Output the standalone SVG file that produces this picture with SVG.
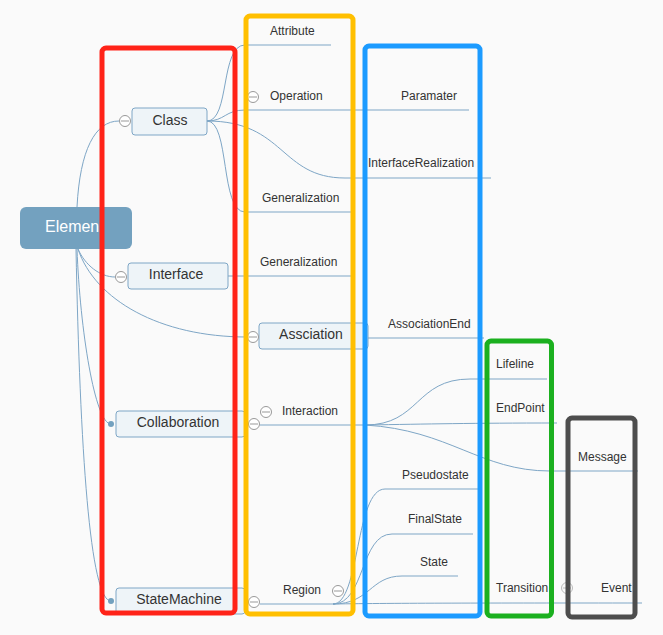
<svg xmlns="http://www.w3.org/2000/svg" width="663" height="635" viewBox="0 0 663 635">
<style>
.e{fill:none;stroke:#7ea6c6;stroke-width:1}
.n rect{fill:#eef4f8;stroke:#7ea6c6;stroke-width:1}
.nt{font-family:"Liberation Sans",Arial,sans-serif;font-size:14px;fill:#333;text-anchor:middle}
.lt{font-family:"Liberation Sans",Arial,sans-serif;font-size:12px;fill:#333}
.c{fill:#fff;stroke:#999;stroke-width:1}
.cl{stroke:#999;stroke-width:1}
.fr{fill:none;stroke-width:5}
</style>
<defs>
<g id="col"><circle class="c" r="5.5"/><line class="cl" x1="-4" y1="0" x2="4" y2="0"/></g>
</defs>
<rect width="663" height="635" fill="#fafafa"/>
<g id="connectors">
<path class="e" d="M77,207 C80,150 95,121 119,121"/>
<path class="e" d="M78,249 C85,265 100,277 115,277"/>
<path class="e" d="M78,249 C95,300 160,337 247,337"/>
<path class="e" d="M77,249 C80,330 95,424 111,424"/>
<path class="e" d="M76,249 C80,450 90,601 111,601"/>
<path class="e" d="M207,121 C230,121 220,45 245,45 L331,45"/>
<path class="e" d="M207,121 C225,121 225,110 245,110 L469,110"/>
<path class="e" d="M207,121 C285,121 280,178 345,178 L491,178"/>
<path class="e" d="M207,121 C230,121 220,212 245,212 L351,212"/>
<path class="e" d="M228,276 L351,276"/>
<path class="e" d="M368,338 L484,338"/>
<path class="e" d="M260,425 L365,425"/>
<path class="e" d="M365,425 C420,425 415,379 470,379 L547,379"/>
<path class="e" d="M365,425 C430,424 470,423 557,423"/>
<path class="e" d="M365,425 C450,430 480,471 550,471 L638,471"/>
<path class="e" d="M260,604 L335,604"/>
<path class="e" d="M333,604 C360,604 355,489 385,489 L478,489"/>
<path class="e" d="M333,604 C365,604 360,534 392,534 L473,534"/>
<path class="e" d="M333,604 C370,604 370,576 402,576 L458,576"/>
<path class="e" d="M333,604 C400,603 480,603 642,603"/>
</g>
<g id="Element">
<rect x="20" y="207" width="112" height="42" rx="6" fill="#73a1bf"/>
<text x="45" y="232" font-family="Liberation Sans,Arial,sans-serif" font-size="16" fill="#fff">Elemen</text>
</g>
<g id="Class" class="n"><rect x="132" y="108" width="75" height="27" rx="3"/><text class="nt" x="170" y="125">Class</text><use href="#col" x="125" y="121"/></g>
<g id="Interface" class="n"><rect x="128" y="263" width="100" height="26" rx="3"/><text class="nt" x="176" y="279">Interface</text><use href="#col" x="121" y="277"/></g>
<g id="Collaboration" class="n"><rect x="116" y="411" width="129" height="26" rx="3"/><text class="nt" x="178" y="427">Collaboration</text><circle cx="111" cy="424" r="3" fill="#73a1bf"/></g>
<g id="StateMachine" class="n"><rect x="116" y="588" width="129" height="26" rx="3"/><text class="nt" x="179" y="604">StateMachine</text><circle cx="111" cy="601" r="3" fill="#73a1bf"/></g>
<g id="Assciation" class="n"><rect x="259" y="323" width="109" height="26" rx="3"/><text class="nt" x="311" y="339">Assciation</text><use href="#col" x="253" y="337"/></g>
<g id="Attribute"><text class="lt" x="270" y="35">Attribute</text></g>
<g id="Operation"><text class="lt" x="270" y="100">Operation</text><use href="#col" x="253" y="97"/></g>
<g id="Paramater"><text class="lt" x="401" y="100">Paramater</text></g>
<g id="InterfaceRealization"><text class="lt" x="368" y="167">InterfaceRealization</text></g>
<g id="Generalization1"><text class="lt" x="262" y="202">Generalization</text></g>
<g id="Generalization2"><text class="lt" x="260" y="266">Generalization</text></g>
<g id="AssociationEnd"><text class="lt" x="388" y="328">AssociationEnd</text></g>
<g id="Interaction"><text class="lt" x="282" y="415">Interaction</text><use href="#col" x="266" y="412"/><use href="#col" x="254" y="424"/></g>
<g id="Lifeline"><text class="lt" x="496" y="368">Lifeline</text></g>
<g id="EndPoint"><text class="lt" x="496" y="412">EndPoint</text></g>
<g id="Message"><text class="lt" x="578" y="461">Message</text></g>
<g id="Region"><text class="lt" x="283" y="594">Region</text><use href="#col" x="338" y="591"/><use href="#col" x="254" y="602"/></g>
<g id="Pseudostate"><text class="lt" x="402" y="479">Pseudostate</text></g>
<g id="FinalState"><text class="lt" x="408" y="523">FinalState</text></g>
<g id="State"><text class="lt" x="420" y="566">State</text></g>
<g id="Transition"><text class="lt" x="496" y="592">Transition</text><circle cx="567" cy="588" r="5.5" fill="none" stroke="#bbb"/><line x1="563" y1="588" x2="571" y2="588" stroke="#bbb"/><line x1="567" y1="584" x2="567" y2="592" stroke="#bbb"/></g>
<g id="Event"><text class="lt" x="601" y="592">Event</text></g>
<g id="frames">
<rect class="fr" x="102" y="48" width="133" height="565" rx="4" stroke="#ff2318"/>
<rect class="fr" x="246" y="16" width="107" height="598" rx="4" stroke="#ffbf00"/>
<rect class="fr" x="365" y="46" width="115" height="570" rx="4" stroke="#1c9bff"/>
<rect class="fr" x="487" y="341" width="64.5" height="275" rx="4" stroke="#1bb01f"/>
<rect class="fr" x="568" y="418" width="67" height="199" rx="4" stroke="#4d4d4d"/>
</g>
</svg>
